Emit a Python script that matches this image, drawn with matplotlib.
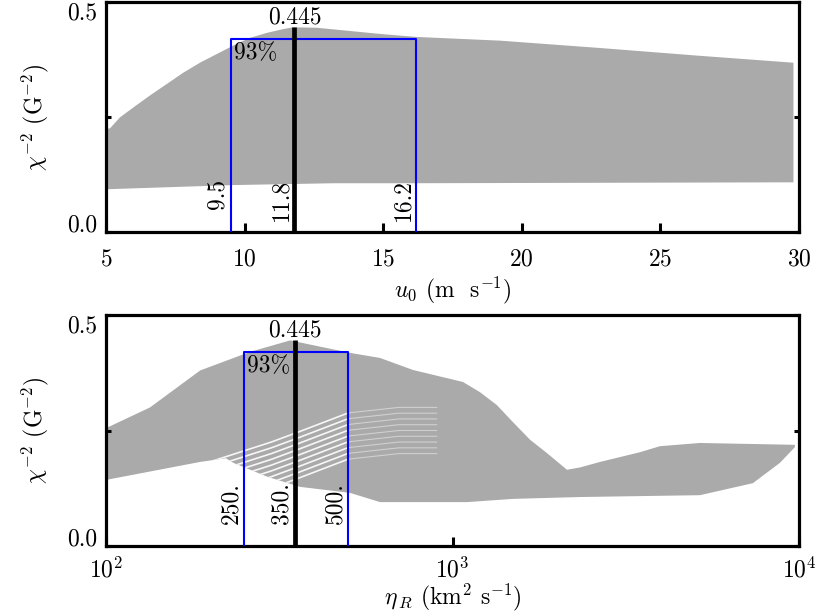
import numpy as np
import matplotlib
matplotlib.use('Agg')
from matplotlib import pyplot as plt

plt.rcParams['font.family'] = 'serif'
plt.rcParams['font.serif'] = ['cmr10', 'DejaVu Serif']
plt.rcParams['mathtext.fontset'] = 'cm'
plt.rcParams['axes.formatter.use_mathtext'] = True

# top panel: u0 envelope of the model cloud
u0_up_x = [5.05, 5.14, 5.5, 5.97, 6.59, 7.2, 7.78, 8.39, 9.0, 9.58, 10.19, 10.81,
           11.39, 11.75, 12.61, 13.8, 14.99, 16.22, 19.21, 22.82, 26.43, 29.8]
u0_up_y = [0.225, 0.225, 0.249, 0.27, 0.297, 0.322, 0.346, 0.368, 0.387, 0.405, 0.422, 0.433,
           0.441, 0.445, 0.444, 0.437, 0.43, 0.424, 0.416, 0.40, 0.383, 0.368]
u0_lo_x = [5.05, 9.58, 13.2, 16.0, 29.8]
u0_lo_y = [0.093, 0.102, 0.106, 0.106, 0.108]

u0_best = 11.8
u0_lo, u0_hi = 9.5, 16.2
u0_labels = ['9.5', '11.8', '16.2']

# bottom panel: eta_R envelope
eta_up_x = [100, 134, 187, 260, 340, 506, 618, 769, 1072, 1200, 1343, 1495, 1674,
            1874, 2140, 2333, 2667, 3476, 3968, 5178, 9730]
eta_up_y = [0.255, 0.30, 0.38, 0.42, 0.445, 0.418, 0.407, 0.381, 0.355, 0.333, 0.305,
            0.268, 0.23, 0.201, 0.165, 0.17, 0.182, 0.203, 0.216, 0.223, 0.219]
eta_lo_x = [100, 187, 222, 233, 292, 363, 506, 618, 1101, 1495, 2333, 5178, 7362,
            8810, 9730]
eta_lo_y = [0.143, 0.182, 0.19, 0.18, 0.15, 0.128, 0.115, 0.095, 0.095, 0.102, 0.106,
            0.11, 0.136, 0.18, 0.214]
# white streaks (gaps between model curves)
eta_gap_x = [205, 300, 360, 500]
eta_gap_y = [0.185, 0.225, 0.247, 0.288]
eta_gap_x2 = [500, 700, 900]
eta_gap_y2 = [0.288, 0.30, 0.30]
eta_gap_off = [0.0, -0.0125, -0.025, -0.0375, -0.05, -0.0625, -0.075, -0.0875, -0.10]

eta_best = 350.
eta_lo, eta_hi = 250., 500.
eta_labels = ['250.', '350.', '500.']

peak = 0.445
box_top = 0.42
fs = 17
gray = '#aaaaaa'

W, H = 831, 616
fig = plt.figure(figsize=(W / 100, H / 100), dpi=100)
ax1 = fig.add_axes([106 / W, 1 - 232 / H, 693 / W, 230 / H])
ax2 = fig.add_axes([106 / W, 1 - 546 / H, 693 / W, 231 / H])


def panel(ax, upx, upy, lox, loy, best, lo, hi, labels, lab_end):
    xs = list(upx) + list(lox)[::-1]
    ys = list(upy) + list(loy)[::-1]
    poly = ax.fill(xs, ys, color=gray, lw=0, zorder=1)[0]
    ax.plot([lo, lo, hi, hi], [0, box_top, box_top, 0], color='#0000ff', lw=1.5, zorder=3)
    ax.plot([best, best], [0, peak], color='black', lw=3.4, zorder=4, solid_capstyle='butt')
    ax.annotate('%.3f' % peak, (best, peak), xytext=(0, 2.5), textcoords='offset points',
                ha='center', va='baseline', fontsize=fs)
    ax.annotate('93%', (lo, box_top), xytext=(2.5, -2), textcoords='offset points',
                ha='left', va='top', fontsize=fs)
    for xv, s in zip([lo, best, hi], labels):
        ax.annotate(s, (xv, lab_end), xytext=(-5, 0), textcoords='offset points',
                    rotation=90, rotation_mode='anchor', ha='right', va='baseline',
                    fontsize=fs)
    ax.set_ylim(0, 0.5)
    ax.set_yticks([0, 0.25, 0.5])
    ax.set_yticklabels(['0.0', '', '0.5'])
    tl = ax.get_yticklabels()
    tl[0].set_va('baseline')
    tl[2].set_va('top')
    ax.tick_params(axis='y', direction='in', length=3.8, width=2.2, left=True, right=True,
                   labelsize=fs, pad=6)
    ax.tick_params(axis='x', direction='in', length=6.5, width=2.2, top=False,
                   labelsize=fs, pad=12)
    for sp in ax.spines.values():
        sp.set_linewidth(2.3)
    ax.set_ylabel(r'$\chi^{-2}$ (G$^{-2}$)', fontsize=fs, labelpad=12)
    return poly


panel(ax1, u0_up_x, u0_up_y, u0_lo_x, u0_lo_y, u0_best, u0_lo, u0_hi, u0_labels, 0.115)
ax1.set_xlim(5, 30)
ax1.set_xticks([5, 10, 15, 20, 25, 30])
ax1.set_xlabel(r'$u_0$ (m  s$^{-1}$)', fontsize=fs, labelpad=3)

p2 = panel(ax2, eta_up_x, eta_up_y, eta_lo_x, eta_lo_y, eta_best, eta_lo, eta_hi, eta_labels, 0.139)
for off in eta_gap_off:
    ln, = ax2.plot(eta_gap_x, np.array(eta_gap_y) + off, color='white', lw=1.2,
                   alpha=0.9, zorder=2)
    ln.set_clip_path(p2)
    ln, = ax2.plot(eta_gap_x2, np.array(eta_gap_y2) + off, color='white', lw=0.8,
                   alpha=0.45, zorder=2)
    ln.set_clip_path(p2)
ax2.set_xscale('log')
ax2.set_xlim(100, 1e4)
ax2.set_xticks([100, 1000, 10000])
ax2.set_xticklabels([r'$10^2$', r'$10^3$', r'$10^4$'])
ax2.tick_params(axis='x', which='minor', bottom=False, top=False)
ax2.tick_params(axis='x', pad=8)
ax2.set_xlabel(r'$\eta_{\,R}$ (km$^2$ s$^{-1}$)', fontsize=fs, labelpad=0)

fig.savefig('out.png', dpi=100)
